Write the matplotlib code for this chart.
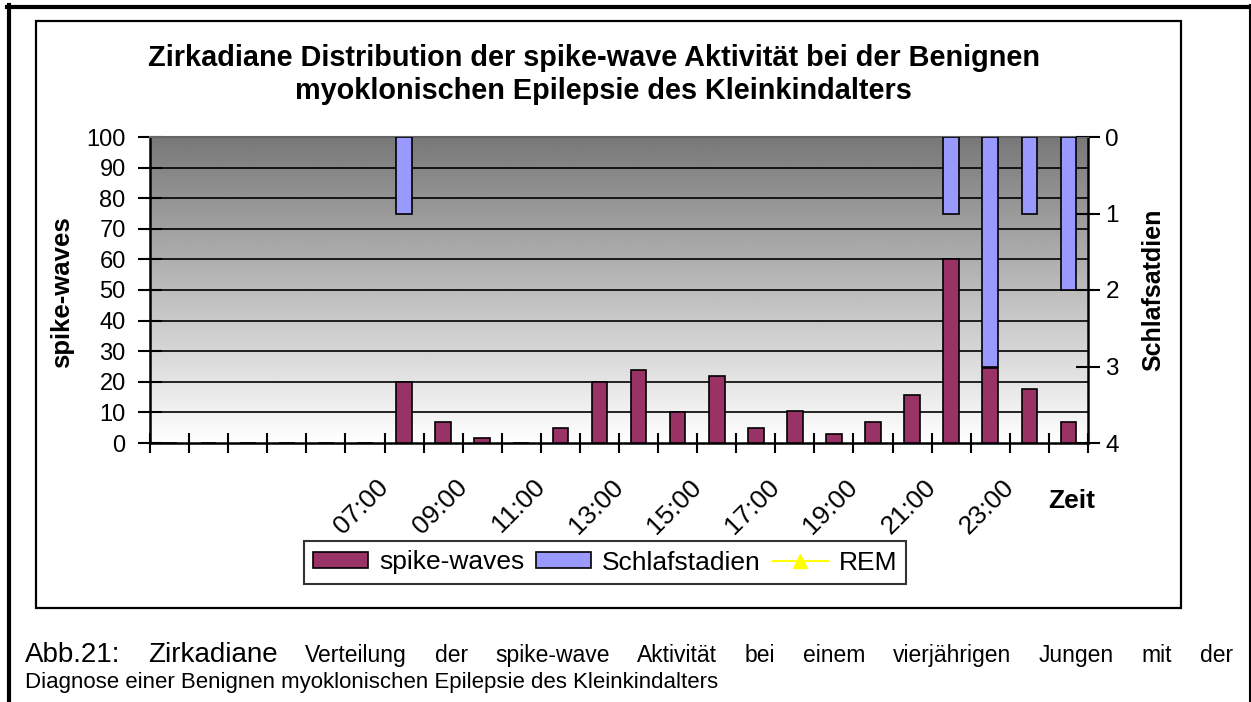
import numpy as np
import matplotlib
matplotlib.use("Agg")
import matplotlib.pyplot as plt
import matplotlib.transforms as mtrans
from matplotlib.lines import Line2D
from matplotlib.patches import Rectangle, Patch

# ---------------- data ----------------
tick_labels = ['', '', '', '', '', '', '07:00', '', '09:00', '', '11:00', '',
               '13:00', '', '15:00', '', '17:00', '', '19:00', '', '21:00', '',
               '23:00', '']
spike_waves = [0, 0, 0, 0, 0, 0, 20, 7, 1.7, 0, 5, 20, 24, 10, 22, 5,
               10.5, 3, 7, 15.6, 60, 24.5, 17.6, 7]
schlafstadien = [np.nan, np.nan, np.nan, np.nan, np.nan, np.nan, 1, np.nan,
                 np.nan, np.nan, np.nan, np.nan, np.nan, np.nan, np.nan, np.nan,
                 np.nan, np.nan, np.nan, np.nan, 1, 3, 1, 2]
left_ticks = [0, 10, 20, 30, 40, 50, 60, 70, 80, 90, 100]
right_ticks = [0, 1, 2, 3, 4]

title_lines = ["Zirkadiane Distribution der spike-wave Aktivität bei der Benignen",
               "myoklonischen Epilepsie des Kleinkindalters"]
caption_line1_big = ["Abb.21:", "Zirkadiane"]
caption_line1_small = ["Verteilung", "der", "spike-wave", "Aktivität", "bei", "einem",
                       "vierjährigen", "Jungen", "mit", "der"]
caption_line2 = "Diagnose einer Benignen myoklonischen Epilepsie des Kleinkindalters"

PURPLE = '#993366'
BLUE = '#9999FF'
YELLOW = '#FFFF00'

plt.rcParams['font.family'] = ['Liberation Sans', 'DejaVu Sans']

W, H = 1251, 702
fig = plt.figure(figsize=(W / 100, H / 100), dpi=100)


def fx(x):
    return x / W


def fy(y):
    return 1 - y / H


# plot area in pixels
L, R, T, B = 150, 1088, 137, 443
ax = fig.add_axes([fx(L), fy(B), fx(R) - fx(L), fy(T) - fy(B)])
ax2 = ax.twinx()

n = len(spike_waves)
x = np.arange(n)

# gradient background
grad = np.linspace(1.0, 0.47, 256).reshape(-1, 1)
ax.imshow(grad, extent=[-0.5, n - 0.5, 0, 100], aspect='auto', cmap='gray',
          vmin=0, vmax=1, origin='lower', zorder=0)

ax.set_xlim(-0.5, n - 0.5)
ax.set_ylim(0, 100)
for v in left_ticks[1:-1]:
    ax.axhline(v, color='black', lw=1.2, zorder=1)

bw = 0.4
ax.bar(x, spike_waves, width=bw, color=PURPLE, edgecolor='black', lw=1.2, zorder=3)

ax2.set_ylim(4, 0)
ax2.bar(x, schlafstadien, width=bw, color=BLUE, edgecolor='black', lw=1.2, zorder=3)
ax2.plot([], [], color=YELLOW, marker='^', markersize=9, lw=1.5)

# ticks
ax.set_yticks(left_ticks)
ax.set_yticklabels([str(v) for v in left_ticks], fontsize=17)
ax2.set_yticks(right_ticks)
ax2.set_yticklabels([str(v) for v in right_ticks], fontsize=17.5)
ax.tick_params(axis='y', direction='inout', length=17, width=1.5, pad=9)
ax2.tick_params(axis='y', direction='inout', length=17, width=1.5, pad=4)

ax.set_xticks(np.arange(-0.5, n, 1))
ax.set_xticklabels([])
ax.tick_params(axis='x', direction='inout', length=15, width=1.5)
ax.set_xticks(x, minor=True)
ax.set_xticklabels(tick_labels, minor=True, rotation=45, ha='right',
                   va='center', rotation_mode='anchor', fontsize=19)
ax.tick_params(axis='x', which='minor', length=0, pad=29)
shift = mtrans.ScaledTranslation(-19 / 100, 0, fig.dpi_scale_trans)
for lab in ax.get_xticklabels(minor=True):
    lab.set_transform(lab.get_transform() + shift)

for sp in ['left', 'bottom']:
    ax.spines[sp].set_linewidth(1.8)
ax.spines['top'].set_color('#666666')
ax.spines['top'].set_linewidth(1.5)
ax.spines['right'].set_visible(False)
ax2.spines['right'].set_linewidth(1.8)
ax2.spines['top'].set_color('#666666')
ax2.spines['left'].set_visible(False)
ax2.spines['bottom'].set_visible(False)

# axis titles
fig.text(fx(62), fy(292), 'spike-waves', rotation=90, ha='center', va='center',
         fontsize=18.5, fontweight='bold')
fig.text(fx(1153), fy(290), 'Schlafsatdien', rotation=90, ha='center', va='center',
         fontsize=18, fontweight='bold')
fig.text(fx(1072), fy(501), 'Zeit', ha='center', va='center',
         fontsize=19, fontweight='bold')

# title
fig.text(fx(594), fy(58), title_lines[0], ha='center', va='center',
         fontsize=20.8, fontweight='bold')
fig.text(fx(603), fy(91), title_lines[1], ha='center', va='center',
         fontsize=20.8, fontweight='bold')

# legend
handles = [Patch(facecolor=PURPLE, edgecolor='black', lw=1.2),
           Patch(facecolor=BLUE, edgecolor='black', lw=1.2),
           Line2D([0], [0], color=YELLOW, marker='^', markersize=10, lw=1.5)]
leg = fig.legend(handles, ['spike-waves', 'Schlafstadien', 'REM'], ncol=3,
                 loc='center', bbox_to_anchor=(fx(605), fy(562.5)),
                 fontsize=19, frameon=True, fancybox=False, borderpad=0.35,
                 handlelength=2.1, handleheight=0.55, columnspacing=0.45,
                 handletextpad=0.4, borderaxespad=0)
leg.get_frame().set_edgecolor('black')
leg.get_frame().set_linewidth(1.5)

# chart frame
fig.add_artist(Rectangle((fx(36), fy(608)), fx(1181) - fx(36), fy(21) - fy(608),
                         transform=fig.transFigure, fill=False, edgecolor='black',
                         lw=1.6))
# outer page border
fig.add_artist(Line2D([fx(7), fx(1251)], [fy(7), fy(7)], transform=fig.transFigure,
                      color='black', lw=3))
fig.add_artist(Line2D([fx(9), fx(9)], [fy(5), fy(702)], transform=fig.transFigure,
                      color='black', lw=3))
fig.add_artist(Line2D([fx(1249.5), fx(1249.5)], [fy(5), fy(702)],
                      transform=fig.transFigure, color='black', lw=1.5))

# caption (justified first line)
renderer = fig.canvas.get_renderer()
words = []
for w in caption_line1_big:
    words.append(fig.text(0, fy(662), w, fontsize=20, va='baseline', ha='left'))
for w in caption_line1_small:
    words.append(fig.text(0, fy(662), w, fontsize=16.5, va='baseline', ha='left'))
widths = [t.get_window_extent(renderer).width for t in words]
x0, x1 = 25, 1233
gap = (x1 - x0 - sum(widths)) / (len(words) - 1)
cur = x0
for t, wdt in zip(words, widths):
    t.set_x(fx(cur))
    cur += wdt + gap
fig.text(fx(25), fy(688), caption_line2, fontsize=16, va='baseline', ha='left')

fig.savefig('out.png', dpi=100)
